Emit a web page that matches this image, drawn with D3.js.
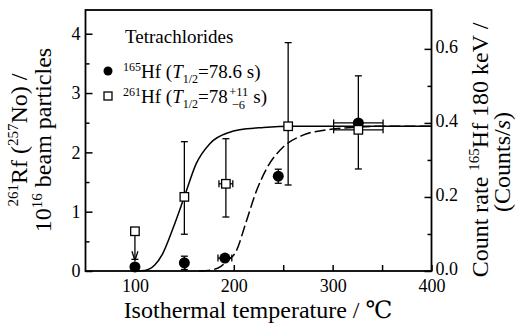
<!DOCTYPE html>
<html>
<head>
<meta charset="utf-8">
<script src="https://cdn.jsdelivr.net/npm/d3@7"></script>
<style>
  html, body { margin: 0; padding: 0; background: #fff; }
  svg { display: block; }
  svg text { font-family: "Liberation Serif", "Tinos", "Times New Roman", "DejaVu Serif", serif !important; fill: #000; }
</style>
</head>
<body>
<svg id="chart" width="530" height="326" font-family="Liberation Serif, DejaVu Serif, serif"></svg>
<script>
// ---------- data ----------
// 261Rf (open squares), left axis
const rfTemp     = [100, 150, 192, 255, 326];
const rfValue    = [0.67, 1.25, 1.47, 2.44, 2.38];
const rfErrLow   = [null, 0.62, 0.91, 1.45, 1.72];
const rfErrHigh  = [null, 2.18, 2.23, 3.85, 3.29];
const rfTempErr  = [0, 0, 7, 0, 25];
const rfUpperLimitTo = [0.18, null, null, null, null];

// 165Hf (filled circles), right axis (counts/s)
const hfTemp     = [100, 150, 191, 245, 326];
const hfRate     = [0.011, 0.022, 0.035, 0.256, 0.400];
const hfErrLow   = [null, 0.004, null, 0.237, null];
const hfErrHigh  = [null, 0.040, null, 0.275, null];
const hfTempErr  = [0, 0, 7, 0, 25];

// simulated curves (left axis units)
const rfCurveTemp  = [100, 110, 120, 128, 139, 150, 162, 176, 196, 206, 230, 260, 400];
const rfCurveValue = [0.0, 0.01, 0.10, 0.29, 0.74, 1.25, 1.81, 2.15, 2.34, 2.38, 2.42, 2.44, 2.44];
const hfCurveTemp  = [165, 178, 187, 194, 202, 212, 222, 234, 250, 270, 294, 320, 350, 400];
const hfCurveValue = [0.0, 0.02, 0.08, 0.18, 0.32, 0.80, 1.31, 1.75, 2.09, 2.29, 2.38, 2.42, 2.44, 2.44];

// ticks
const xTickValues = [100, 150, 200, 250, 300, 350, 400];
const xTickLabels = [100, 200, 300, 400];
const yLeftMajor  = [0, 1, 2, 3, 4];
const yLeftMinor  = [0.5, 1.5, 2.5, 3.5];
const yRightMajor = [0.0, 0.2, 0.4, 0.6];
const yRightMinor = [0.1, 0.3, 0.5];

// ---------- layout ----------
const FONT = "Liberation Serif, DejaVu Serif, serif";
const L = 85.5, R = 431.5, T = 10, B = 271;
const svg = d3.select("#chart");

const x = d3.scaleLinear().domain([50, 400]).range([L, R]);
const yL = d3.scaleLinear().domain([0, 4.4]).range([B, T]);
const yR = d3.scaleLinear().domain([0, 0.705]).range([B, T]);

// frame
svg.append("rect").attr("x", L).attr("y", T).attr("width", R - L).attr("height", B - T)
  .attr("fill", "none").attr("stroke", "#000").attr("stroke-width", 1.8);

// axes
function styleAxis(g) {
  g.attr("font-family", FONT);
  g.select(".domain").remove();
  g.selectAll(".tick line").attr("stroke", "#000").attr("stroke-width", 1.5);
  g.selectAll("text").attr("font-family", FONT).attr("font-size", 18).attr("fill", "#000");
}
const gx = svg.append("g").attr("transform", `translate(0,${B})`)
  .call(d3.axisBottom(x).tickValues(xTickValues).tickSizeInner(-6).tickSizeOuter(0).tickPadding(8)
    .tickFormat(d => xTickLabels.includes(d) ? d : ""));
styleAxis(gx);

const gyl = svg.append("g").attr("transform", `translate(${L},0)`)
  .call(d3.axisLeft(yL).tickValues(yLeftMajor).tickSizeInner(-7).tickSizeOuter(0).tickPadding(5).tickFormat(d3.format("d")));
styleAxis(gyl);
const gylm = svg.append("g").attr("transform", `translate(${L},0)`)
  .call(d3.axisLeft(yL).tickValues(yLeftMinor).tickSizeInner(-4).tickSizeOuter(0).tickFormat(""));
styleAxis(gylm);

const gyr = svg.append("g").attr("transform", `translate(${R},0)`)
  .call(d3.axisRight(yR).tickValues(yRightMajor).tickSizeInner(-7).tickSizeOuter(0).tickPadding(4).tickFormat(d3.format(".1f")));
styleAxis(gyr);
gyr.selectAll(".tick text").attr("dy", "0.2em");
const gyrm = svg.append("g").attr("transform", `translate(${R},0)`)
  .call(d3.axisRight(yR).tickValues(yRightMinor).tickSizeInner(-4).tickSizeOuter(0).tickFormat(""));
styleAxis(gyrm);

// curves
const curveLine = d3.line().x(d => x(d[0])).y(d => yL(d[1])).curve(d3.curveMonotoneX);
svg.append("path").datum(d3.zip(rfCurveTemp, rfCurveValue)).attr("d", curveLine)
  .attr("fill", "none").attr("stroke", "#000").attr("stroke-width", 1.5);
svg.append("path").datum(d3.zip(hfCurveTemp, hfCurveValue)).attr("d", curveLine)
  .attr("fill", "none").attr("stroke", "#000").attr("stroke-width", 1.5).attr("stroke-dasharray", "11,4");

const eb = svg.append("g").attr("stroke", "#000").attr("stroke-width", 1.3);
const cap = 3.5;
function vErr(xx, y1, y2) {
  eb.append("line").attr("x1", xx).attr("x2", xx).attr("y1", y1).attr("y2", y2);
  eb.append("line").attr("x1", xx - cap).attr("x2", xx + cap).attr("y1", y1).attr("y2", y1);
  eb.append("line").attr("x1", xx - cap).attr("x2", xx + cap).attr("y1", y2).attr("y2", y2);
}
function hErr(x1, x2, yy) {
  eb.append("line").attr("x1", x1).attr("x2", x2).attr("y1", yy).attr("y2", yy);
  eb.append("line").attr("x1", x1).attr("x2", x1).attr("y1", yy - cap).attr("y2", yy + cap);
  eb.append("line").attr("x1", x2).attr("x2", x2).attr("y1", yy - cap).attr("y2", yy + cap);
}

// 261Rf error bars
rfTemp.forEach((t, i) => {
  if (rfErrLow[i] != null) vErr(x(t), yL(rfErrHigh[i]), yL(rfErrLow[i]));
  if (rfTempErr[i]) hErr(x(t - rfTempErr[i]), x(t + rfTempErr[i]), yL(rfValue[i]));
  if (rfUpperLimitTo[i] != null) {
    const xx = x(t), y0 = yL(rfValue[i]) + 4, y1 = yL(rfUpperLimitTo[i]);
    eb.append("line").attr("x1", xx).attr("x2", xx).attr("y1", y0).attr("y2", y1);
    eb.append("path").attr("fill", "none").attr("d", `M${xx - 3},${y1 - 9}L${xx},${y1}L${xx + 3},${y1 - 9}`);
    eb.append("line").attr("x1", xx - cap).attr("x2", xx + cap).attr("y1", y1 - 1).attr("y2", y1 - 1);
  }
});
// 165Hf error bars
hfTemp.forEach((t, i) => {
  if (hfErrLow[i] != null) vErr(x(t), yR(hfErrHigh[i]), yR(hfErrLow[i]));
  if (hfTempErr[i]) hErr(x(t - hfTempErr[i]), x(t + hfTempErr[i]), yR(hfRate[i]));
});

// markers
svg.append("g").selectAll("circle").data(d3.zip(hfTemp, hfRate)).join("circle")
  .attr("cx", d => x(d[0])).attr("cy", d => yR(d[1])).attr("r", 5.5).attr("fill", "#000");
const sq = 8.5;
svg.append("g").selectAll("rect").data(d3.zip(rfTemp, rfValue)).join("rect")
  .attr("x", d => x(d[0]) - sq / 2).attr("y", d => yL(d[1]) - sq / 2)
  .attr("width", sq).attr("height", sq).attr("fill", "#fff").attr("stroke", "#000").attr("stroke-width", 1.3);

// ---------- legend ----------
svg.append("text").attr("x", 125).attr("y", 43).attr("font-size", 19).text("Tetrachlorides");
svg.append("circle").attr("cx", 108).attr("cy", 71).attr("r", 4.5).attr("fill", "#000");
svg.append("rect").attr("x", 104).attr("y", 92).attr("width", 8).attr("height", 8)
  .attr("fill", "#fff").attr("stroke", "#000").attr("stroke-width", 1.3);

function legendLine(y, sup, nucl) {
  const t = svg.append("text").attr("x", 123).attr("y", y).attr("font-size", 19);
  t.append("tspan").attr("font-size", 12).attr("dy", -7).text(sup);
  t.append("tspan").attr("dy", 7).text(nucl + " (");
  t.append("tspan").attr("font-style", "italic").text("T");
  t.append("tspan").attr("font-size", 12).attr("dy", 5).text("1/2");
  return t;
}
const l1 = legendLine(78, "165", "Hf");
l1.append("tspan").attr("dy", -5).text("=78.6 s)");
const l2 = legendLine(103, "261", "Hf");
l2.append("tspan").attr("dy", -5).text("=78");
const w2 = l2.node().getComputedTextLength();
const xs = 123 + w2 + 1.5;
svg.append("text").attr("x", xs).attr("y", 96).attr("font-size", 12.5).text("+11");
svg.append("text").attr("x", xs + 2.5).attr("y", 109).attr("font-size", 12.5).text("\u22126");
svg.append("text").attr("x", xs + 24).attr("y", 103).attr("font-size", 19).text("s)");

// ---------- axis titles ----------
svg.append("text").attr("x", 258).attr("y", 318).attr("font-size", 24).attr("text-anchor", "middle")
  .text("Isothermal temperature / \u2103");

const lt1 = svg.append("text").attr("transform", "translate(27,140) rotate(-90)")
  .attr("text-anchor", "middle").attr("font-size", 24);
lt1.append("tspan").attr("font-size", 15).attr("dy", -9).text("261");
lt1.append("tspan").attr("dy", 9).text("Rf (");
lt1.append("tspan").attr("font-size", 15).attr("dy", -9).text("257");
lt1.append("tspan").attr("dy", 9).text("No) /");

const lt2 = svg.append("text").attr("transform", "translate(51,140) rotate(-90)")
  .attr("text-anchor", "middle").attr("font-size", 24);
lt2.append("tspan").text("10");
lt2.append("tspan").attr("font-size", 15).attr("dy", -9).text("16");
lt2.append("tspan").attr("dy", 9).text(" beam particles");

const rt1 = svg.append("text").attr("transform", "translate(488,150) rotate(-90)")
  .attr("text-anchor", "middle").attr("font-size", 24);
rt1.append("tspan").text("Count rate ");
rt1.append("tspan").attr("font-size", 15).attr("dy", -9).text("165");
rt1.append("tspan").attr("dy", 9).text("Hf 180 keV /");

const rt2 = svg.append("text").attr("transform", "translate(510,162) rotate(-90)")
  .attr("text-anchor", "middle").attr("font-size", 24);
rt2.append("tspan").text("(Counts/");
rt2.append("tspan").attr("font-style", "italic").text("s");
rt2.append("tspan").text(")");
</script>
</body>
</html>
